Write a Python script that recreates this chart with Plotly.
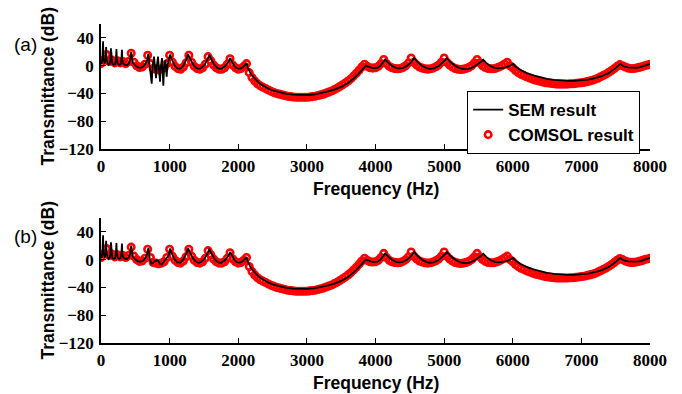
import plotly.graph_objects as go

# ---------------- data ----------------
# COMSOL transmittance (dB), sampled every 40 Hz from 0 to 8000 Hz
comsol_step_hz = 40
comsol_db = [
    3, 8, 16, 6, 8, 4, 7, 4, 6, 3, 6, 18, 5, 0, -2.5, -2, 2, 15, 3, -4, -5, -6, -5, -3, 3,
    15, 5, -1, -4, -5, -2, 4, 15, 5, -1, -4, -5, -3, 2, 13, 7, 1, -3, -5, -5, -3, 2, 10, 1, -3,
    -5, -4, -1, 3, -10, -17, -22, -26, -29, -31, -33, -35, -37, -38.5, -40, -41, -42, -43, -44, -44.5, -45, -45.5, -45.5, -45.5, -45.5,
    -45.5, -45, -44.5, -44, -43, -42, -41, -39.5, -38, -36.5, -34.5, -32.5, -30, -27.5, -25, -22, -19, -15, -11, -6.5, -2, 2, -1, -3, -3.5,
    -3, -1, 3, 9, 3, -1, -3, -4, -4.5, -4, -2.5, 0, 4, 11, 5, 1, -2, -3.5, -4.5, -5, -4.5, -3.5, -1.5, 1, 5,
    11, 5, 1, -2, -4, -5, -5.5, -5, -4, -2.5, 0, 4, 9, 4, 0, -2.5, -4, -4.5, -4.5, -3.5, -2, 0, 2.5, 5, 0,
    -3, -7, -10, -12.5, -14, -16, -17.5, -19, -20.5, -21.5, -22.5, -23.5, -24.5, -25, -25.5, -26, -26.5, -26.5, -26.5, -26.5, -26.5, -26, -26, -25.5, -25,
    -24.5, -24, -23, -22, -21, -19.5, -18, -16, -14, -12, -9.5, -7, -4, -1, 1.5, 0, -2, -3.5, -4, -4, -3.5, -2.5, -1.5, 0, 1,
    2,
]
comsol_freq = [i * comsol_step_hz for i in range(len(comsol_db))]

# SEM result, (frequency Hz, transmittance dB) pairs, piece by piece
sem_low = [
    (0, 2), (10, 4), (20, 10), (30, 35), (36, 10), (45, 4), (55, 3), (65, 8), (75, 27), (82, 8),
    (95, 3), (110, 1), (125, 2), (137, 8), (145, 25), (152, 8), (165, 3), (185, 1), (205, 2),
    (217, 8), (225, 24), (232, 8), (245, 3), (265, 1), (285, 2), (297, 8), (305, 23), (312, 8),
    (325, 3), (350, 1), (380, 1), (405, 3), (425, 8), (440, 20), (450, 9), (465, 4), (500, 0),
    (540, -2.5), (580, -3), (620, -1), (650, 3), (672, 8), (690, 17),
]
# 700-1000 Hz: case (a) is strongly oscillating, case (b) is smooth
sem_mid_a = [
    (700, 6), (715, -5), (739, -26), (750, -4), (760, 5), (773, 13), (785, 0), (802, -18),
    (812, -2), (821, 8), (831, 13), (842, -2), (860, -23), (870, -3), (879, 6), (889, 11),
    (898, -6), (908, -29), (918, -6), (928, 3), (938, 8), (947, -2), (957, -16), (967, -1),
    (980, 4), (993, 9), (1005, 16),
]
sem_mid_b = [
    (700, 8), (712, 1), (735, -6), (760, -5), (785, -2), (810, -1), (835, -2), (860, -6),
    (885, -7), (910, -4), (940, -1), (965, 2), (985, 6), (997, 11), (1005, 16),
]
sem_pass1 = [
    (1018, 12.1), (1032, 8.6), (1071, 0.6), (1111, -3.7), (1138, -4.5), (1164, -3.7), (1204, 0.8),
    (1244, 8.9), (1257, 12.5), (1270, 16.5),
    (1285, 12.5), (1301, 8.9), (1348, 0.8), (1394, -3.7), (1425, -4.5), (1456, -3.7), (1503, 0.5),
    (1549, 8.3), (1565, 11.7), (1580, 15.5),
    (1595, 11.7), (1611, 8.3), (1656, 0.5), (1702, -3.7), (1733, -4.5), (1763, -3.9), (1809, -0.6),
    (1855, 5.4), (1870, 8.1), (1885, 11),
    (1897, 8.1), (1909, 5.4), (1945, -0.6), (1981, -3.9), (2005, -4.5), (2029, -4.2), (2065, -2.5),
    (2100, 0.6), (2112, 2), (2124, 3.5),
]
sem_gap1 = [
    (2135, -2), (2150, -6), (2175, -10), (2200, -14), (2250, -20), (2300, -24.5), (2350, -28),
    (2400, -31), (2450, -33.5), (2500, -35.5), (2600, -38.5), (2700, -40.5), (2800, -41.8),
    (2900, -42.3), (3000, -42.2), (3100, -41.5), (3200, -40), (3300, -37.5), (3400, -34.5),
    (3500, -30.5), (3600, -25), (3650, -21.5), (3700, -17), (3750, -12), (3800, -6.5),
    (3830, -3), (3860, 0),
]
sem_pass2 = [
    (3874, -0.7), (3888, -1.3), (3930, -2.6), (3972, -3.4), (4000, -3.5), (4028, -3), (4070, -0.4),
    (4112, 4.5), (4126, 6.6), (4140, 9),
    (4161, 6.5), (4183, 4.3), (4246, -0.8), (4310, -3.5), (4353, -4), (4395, -3.4), (4459, -0.3),
    (4523, 5.6), (4544, 8.2), (4565, 11),
    (4589, 8.1), (4613, 5.4), (4684, -0.6), (4755, -3.9), (4803, -4.5), (4850, -3.9), (4921, -0.6),
    (4993, 5.4), (5016, 8.1), (5040, 11),
    (5067, 8), (5093, 5.2), (5173, -1), (5252, -4.4), (5305, -5), (5358, -4.5), (5438, -1.6),
    (5517, 3.6), (5544, 5.9), (5570, 8.5),
    (5592, 6.1), (5614, 4), (5680, -0.9), (5746, -3.5), (5790, -4), (5834, -3.7), (5900, -2.4),
    (5966, 0.2), (5988, 1.3), (6010, 2.5),
]
sem_gap2 = [
    (6030, -0.5), (6060, -3), (6100, -5.5), (6150, -8), (6200, -10.5), (6300, -14), (6400, -16.8),
    (6500, -19), (6600, -20.5), (6700, -21.5), (6800, -22), (6900, -22), (7000, -21.3),
    (7100, -20), (7200, -18), (7300, -15), (7400, -10.5), (7450, -7.5), (7500, -3.5),
    (7540, 0.5), (7570, 2.5), (7590, 0.5), (7620, -1), (7680, -2.5), (7740, -3), (7800, -3),
    (7860, -2.2), (7920, -0.5), (7970, 1.2), (8000, 2.5),
]

x_ticks = [0, 1000, 2000, 3000, 4000, 5000, 6000, 7000, 8000]
y_ticks = [-120, -80, -40, 0, 40]
panel_labels = ["(a)", "(b)"]
x_title = "Frequency (Hz)"
y_title = "Transmittance (dB)"


def unzip(points):
    return [p[0] for p in points], [p[1] for p in points]


sem_a_freq, sem_a_db = unzip(sem_low + sem_mid_a + sem_pass1 + sem_gap1 + sem_pass2 + sem_gap2)
sem_b_freq, sem_b_db = unzip(sem_low + sem_mid_b + sem_pass1 + sem_gap1 + sem_pass2 + sem_gap2)

# ---------------- figure ----------------
SANS = "Liberation Sans"
SERIF = "Liberation Serif"
RED = "#ff0000"
TITLE_FONT = dict(family=SANS, size=17.5, color="black", weight="bold")

fig = go.Figure()

panels = [("x", "y", sem_a_freq, sem_a_db, True), ("x2", "y2", sem_b_freq, sem_b_db, False)]
for xa, ya, sf, sd, show in panels:
    fig.add_trace(go.Scatter(
        x=comsol_freq, y=comsol_db, xaxis=xa, yaxis=ya, mode="markers",
        name="COMSOL result", showlegend=show, legendrank=2,
        marker=dict(symbol="circle-open", size=6.5, color=RED, line=dict(width=2.6, color=RED)),
    ))
    fig.add_trace(go.Scatter(
        x=sf, y=sd, xaxis=xa, yaxis=ya, mode="lines",
        name="SEM result", showlegend=show, legendrank=1,
        line=dict(color="black", width=1.8),
    ))

axis_common = dict(
    showline=True, linecolor="black", linewidth=1.5, mirror=False,
    ticks="inside", ticklen=5, tickwidth=1.3, tickcolor="black",
    showgrid=False, zeroline=False, automargin=False,
    tickfont=dict(family=SERIF, size=17, color="black", weight="bold"),
)
xcfg = dict(axis_common, range=[0, 8000], tickvals=x_ticks, ticklabelstandoff=1)
ycfg = dict(axis_common, range=[-120, 60], tickvals=y_ticks, ticklabelstandoff=2)

# panel letters and axis titles, positioned in paper coordinates
panel_notes = []
panel_pos = [
    # letter, letter y, y-title centre, x-title y
    (panel_labels[0], 0.937, 0.804, 0.484),
    (panel_labels[1], 0.335, 0.196, -0.124),
]
for label, y_letter, y_mid, y_xtitle in panel_pos:
    panel_notes.append(dict(text=label, xref="paper", yref="paper", x=-0.138, y=y_letter,
                            xanchor="center", yanchor="middle", showarrow=False,
                            font=dict(family=SANS, size=19, color="black")))
    panel_notes.append(dict(text=y_title, xref="paper", yref="paper", x=-0.0965, y=y_mid,
                            xanchor="center", yanchor="middle", textangle=-90, showarrow=False,
                            font=TITLE_FONT))
    panel_notes.append(dict(text=x_title, xref="paper", yref="paper", x=0.5, y=y_xtitle,
                            xanchor="center", yanchor="middle", showarrow=False,
                            font=TITLE_FONT))

fig.update_layout(
    width=682, height=394,
    margin=dict(l=101, r=32, t=24, b=51),
    paper_bgcolor="white", plot_bgcolor="white",
    xaxis=dict(xcfg, domain=[0, 1], anchor="y"),
    yaxis=dict(ycfg, domain=[0.608, 1], anchor="x"),
    xaxis2=dict(xcfg, domain=[0, 1], anchor="y2"),
    yaxis2=dict(ycfg, domain=[0, 0.392], anchor="x2"),
    legend=dict(
        x=0.667, y=0.79, xanchor="left", yanchor="top",
        bgcolor="white", bordercolor="black", borderwidth=1,
        font=dict(family=SANS, size=17, color="black", weight="bold"),
        tracegroupgap=0,
    ),
    annotations=panel_notes,
)

fig.write_html("out.html")
